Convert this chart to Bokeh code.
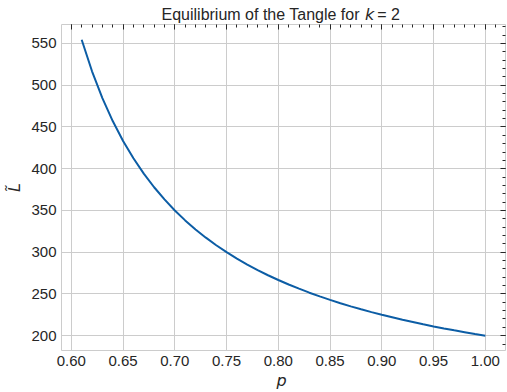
from bokeh.plotting import figure
from bokeh.models import (Range1d, LinearAxis, SingleIntervalTicker, PrintfTickFormatter,
                          Label, ColumnDataSource, Grid)
from bokeh.embed import file_html
from bokeh.resources import INLINE
import math

# data
p_vals = [0.61, 0.62, 0.63, 0.64, 0.65, 0.66, 0.67, 0.68, 0.69, 0.70,
          0.71, 0.72, 0.73, 0.74, 0.75, 0.76, 0.77, 0.78, 0.79, 0.80,
          0.81, 0.82, 0.83, 0.84, 0.85, 0.86, 0.87, 0.88, 0.89, 0.90,
          0.91, 0.92, 0.93, 0.94, 0.95, 0.96, 0.97, 0.98, 0.99, 1.00]
L_vals = [554.5, 516.7, 484.6, 457.1, 433.3, 412.5, 394.1, 377.8, 363.2, 350.0,
          338.1, 327.3, 317.4, 308.3, 300.0, 292.3, 285.2, 278.6, 272.4, 266.7,
          261.3, 256.3, 251.5, 247.1, 242.9, 238.9, 235.1, 231.6, 228.2, 225.0,
          222.0, 219.0, 216.3, 213.6, 211.1, 208.7, 206.4, 204.2, 202.0, 200.0]

NB = "\u00a0"
title_text = "Equilibrium of the Tangle for" + NB * 4 + "=" + NB + "2"
title_var = "k"
x_label = "p"
y_label = "L\u0303"

TEXT = "#262626"
GRID = "#cccccc"
FONT = "Liberation Sans"

p = figure(width=507, height=392, output_backend="svg", toolbar_location=None,
           x_range=Range1d(0.5905, 1.0195), y_range=Range1d(182.25, 572.75),
           x_axis_type=None, y_axis_type=None,
           min_border_left=58, min_border_right=2, min_border_top=24, min_border_bottom=42)
p.background_fill_color = "white"
p.border_fill_color = "white"
p.outline_line_color = None

xt = SingleIntervalTicker(interval=0.05, num_minor_ticks=5)
yt = SingleIntervalTicker(interval=50, num_minor_ticks=5)

def styled(axis, labels=True):
    axis.axis_line_color = GRID
    axis.axis_line_width = 1
    axis.major_tick_line_color = TEXT
    axis.minor_tick_line_color = TEXT
    if labels:
        axis.major_tick_in = 0
        axis.major_tick_out = 0
        axis.minor_tick_in = 0
        axis.minor_tick_out = 0
        axis.major_label_standoff = 5
        axis.major_label_text_font = FONT
        axis.major_label_text_font_size = "15px"
        axis.major_label_text_color = TEXT
    else:
        axis.major_tick_in = 5
        axis.major_tick_out = 0
        axis.minor_tick_in = 3
        axis.minor_tick_out = 0
        axis.major_label_standoff = 0
        axis.major_label_text_font_size = "0px"
    return axis

xb = styled(LinearAxis(ticker=xt, formatter=PrintfTickFormatter(format="%.2f")))
yl = styled(LinearAxis(ticker=yt, formatter=PrintfTickFormatter(format="%d")))
xa = styled(LinearAxis(ticker=xt), labels=False)
yr = styled(LinearAxis(ticker=yt), labels=False)
p.add_layout(xb, "below")
p.add_layout(yl, "left")
p.add_layout(xa, "above")
p.add_layout(yr, "right")

p.add_layout(Grid(dimension=0, ticker=xt, grid_line_color=GRID, grid_line_width=1))
p.add_layout(Grid(dimension=1, ticker=yt, grid_line_color=GRID, grid_line_width=1))

src = ColumnDataSource(dict(x=p_vals, y=L_vals))
p.line("x", "y", source=src, line_color="#0C5DA5", line_width=2)

def lab(text, x, y, size, side, align="left", baseline="alphabetic", style="normal",
        font=FONT, angle=0):
    p.add_layout(Label(text=text, x=x, y=y, x_units="canvas", y_units="canvas",
                       text_font=font, text_font_size=size, text_color=TEXT,
                       text_align=align, text_baseline=baseline, text_font_style=style,
                       angle=angle), side)

lab(title_text, 161.0, 14.0, "16px", "above")
lab(title_var, 364.5, 14.0, "16px", "left", style="italic", font="DejaVu Sans")
lab(x_label, 281.0, 380.0, "16px", "below", align="center", style="italic", font="DejaVu Sans")
lab(y_label, 14.0, 187.0, "16px", "left", align="center", baseline="middle", style="italic",
    font="DejaVu Sans", angle=math.pi / 2)

open("out.html", "w").write(file_html(p, INLINE))
